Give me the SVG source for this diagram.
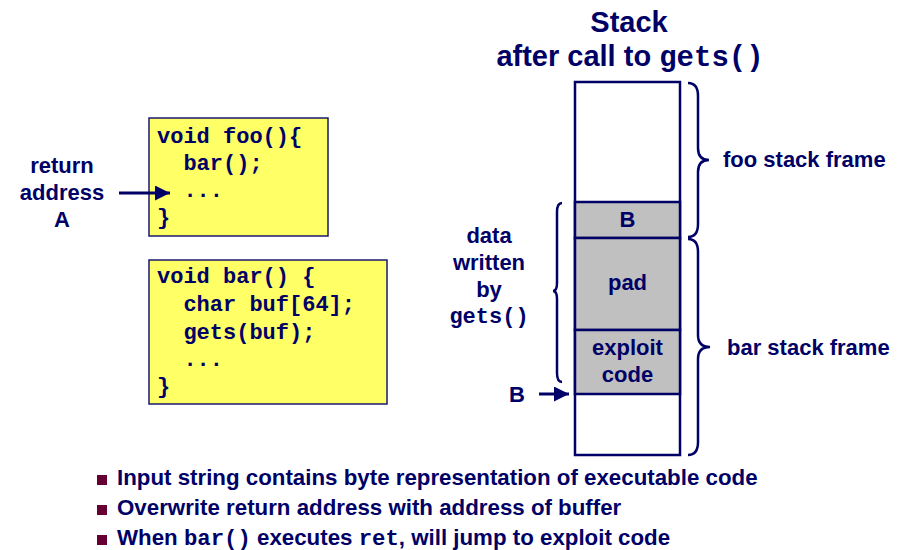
<svg xmlns="http://www.w3.org/2000/svg" width="915" height="550" viewBox="0 0 915 550">
<style>
.t{font-family:"Liberation Sans",Arial,sans-serif;font-weight:bold;font-size:22px;fill:#000066}
.m{font-family:"Liberation Mono","Courier New",monospace;font-weight:bold;font-size:22px;fill:#000066}
.code{font-family:"Liberation Mono","Courier New",monospace;font-weight:bold;font-size:22px;fill:#000066}
.b{font-size:22.3px}
.box{fill:#FFFF66;stroke:#1A1A70;stroke-width:1.5}
.cell{stroke:#000066;stroke-width:2.5}
.brace{fill:none;stroke:#000066;stroke-width:2.5}
.arrow{stroke:#000066;stroke-width:3;fill:none}
.bul{fill:#660033}
</style>
<defs>
<marker id="ah" viewBox="0 0 10 10" refX="10" refY="5" markerWidth="5" markerHeight="5" markerUnits="strokeWidth" orient="auto">
<path d="M0,0 L10,5 L0,10 Z" fill="#000066"/>
</marker>
</defs>

<g id="title">
<text class="t" x="629" y="32" text-anchor="middle" style="font-size:29px">Stack</text>
<text class="t" x="630" y="66" text-anchor="middle" style="font-size:29px">after call to <tspan class="m" style="font-size:29px">gets()</tspan></text>
</g>

<g id="foo-code">
<rect class="box" x="149" y="118" width="179" height="118"/>
<text class="code" x="157" y="143">void foo(){</text>
<text class="code" x="183.4" y="170">bar();</text>
<text class="code" x="183.4" y="197">...</text>
<text class="code" x="157" y="224">}</text>
</g>

<g id="bar-code">
<rect class="box" x="149" y="260" width="238" height="144"/>
<text class="code" x="157" y="283">void bar() {</text>
<text class="code" x="183.4" y="311">char buf[64];</text>
<text class="code" x="183.4" y="338.5">gets(buf);</text>
<text class="code" x="183.4" y="366">...</text>
<text class="code" x="157" y="393">}</text>
</g>

<g id="return-label">
<text class="t" x="62" y="173" text-anchor="middle">return</text>
<text class="t" x="62" y="200" text-anchor="middle">address</text>
<text class="t" x="62" y="227" text-anchor="middle">A</text>
</g>

<g id="stack">
<rect class="cell" x="575" y="82" width="105" height="373" fill="#FFFFFF"/>
<rect class="cell" x="575" y="202" width="105" height="36" fill="#C0C0C0"/>
<rect class="cell" x="575" y="238" width="105" height="92" fill="#C0C0C0"/>
<rect class="cell" x="575" y="330" width="105" height="64" fill="#C0C0C0"/>
<text class="t" x="627.5" y="227" text-anchor="middle">B</text>
<text class="t" x="627.5" y="290" text-anchor="middle">pad</text>
<text class="t" x="627.5" y="355" text-anchor="middle">exploit</text>
<text class="t" x="627.5" y="382" text-anchor="middle">code</text>
</g>

<g id="foo-frame">
<path class="brace" d="M688,83 Q698,83 698,96 L698,148 Q698,160 709,160 Q698,160 698,172 L698,224 Q698,237 688,237"/>
<text class="t" x="723" y="167">foo stack frame</text>
</g>

<g id="bar-frame">
<path class="brace" d="M688,239 Q698,239 698,252 L698,335 Q698,347 710,347 Q698,347 698,359 L698,442 Q698,455 688,455"/>
<text class="t" x="727" y="355">bar stack frame</text>
</g>

<g id="data-written">
<path class="brace" d="M562,203 Q557,203 557,212 L557,283 Q557,291 553,291 Q557,291 557,299 L557,373 Q557,382 562,382"/>
<text class="t" x="489" y="243" text-anchor="middle">data</text>
<text class="t" x="489" y="270" text-anchor="middle">written</text>
<text class="t" x="489" y="297" text-anchor="middle">by</text>
<text class="m" x="489" y="323" text-anchor="middle">gets()</text>
</g>

<g id="b-label">
<text class="t" x="517" y="402" text-anchor="middle">B</text>
</g>

<g id="connectors">
<line class="arrow" x1="119" y1="193" x2="170" y2="193" marker-end="url(#ah)"/>
<line class="arrow" x1="539" y1="394" x2="569" y2="394" marker-end="url(#ah)"/>
</g>

<g id="bullets">
<rect class="bul" x="97" y="475" width="10" height="10"/>
<rect class="bul" x="97" y="505" width="10" height="10"/>
<rect class="bul" x="97" y="535" width="10" height="10"/>
<text class="t b" x="117" y="485">Input string contains byte representation of executable code</text>
<text class="t b" x="117" y="515">Overwrite return address with address of buffer</text>
<text class="t b" x="117" y="545">When <tspan class="m b">bar()</tspan> executes <tspan class="m b">ret</tspan>, will jump to exploit code</text>
</g>
</svg>
